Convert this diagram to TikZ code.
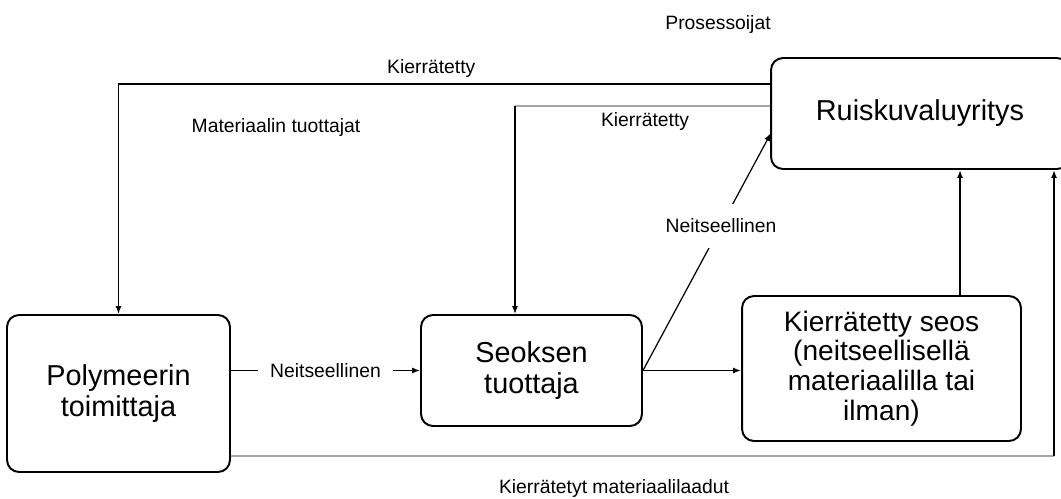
\documentclass[tikz,border=0pt]{standalone}
\usepackage{fontspec}
\setmainfont{Liberation Sans}
\usetikzlibrary{arrows.meta}

\begin{document}
\begin{tikzpicture}[
  x=0.02cm, y=-0.02cm,
  every node/.style={font=\fontsize{11}{13}\selectfont},
  box/.style={
    draw,
    line width=1.1pt,
    rounded corners=0.24cm,
    align=center,
    font=\fontsize{16.4}{17.8}\selectfont
  },
  arrow/.style={-{Latex[length=1.6mm,width=1.2mm]}, line width=0.7pt},
  heavy/.style={arrow, line width=1.1pt},
  faint/.style={line width=0.7pt, black!35},
  lbl/.style={fill=white, inner xsep=0.25cm, inner ysep=0.3cm}
]
\useasboundingbox (0,0) rectangle (1061,498);
\node[box, minimum width=4.46cm, minimum height=3.14cm] (poly) at (118.5,393.5) {Polymeerin\\toimittaja};
\node[box, minimum width=4.42cm, minimum height=2.22cm] (mix) at (531.5,370.5) {Seoksen\\tuottaja};
\node[box, minimum width=5.58cm, minimum height=2.9cm, font=\fontsize{16}{16.9}\selectfont] (blend) at (881.5,368.5) {Kierrätetty seos\\(neitseellisellä\\materiaalilla tai\\ilman)};
\node[box, minimum width=5.96cm, minimum height=2.22cm] (ruisku) at (920,113.5) {Ruiskuvaluyritys};
\node (proc) at (718,24) {Prosessoijat};
\node (makers) at (276,127) {Materiaalin tuottajat};
\node (grades) at (614,488) {Kierrätetyt materiaalilaadut};
\coordinate (outerrow) at (118.5,84);
\coordinate (innerrow) at (515,106);
\coordinate (botrow) at (1054,456);
\coordinate (upx) at (960,0);
\coordinate (diagend) at (771,133);
\draw[arrow] (ruisku.west |- outerrow) -- node[above, pos=0.52] {Kierrätetty} (outerrow) -- (poly.north);
\draw[faint] (ruisku.west |- innerrow) -- node[below, pos=0.49, black] {Kierrätetty} (innerrow);
\draw[arrow] (innerrow) -- (innerrow |- mix.north);
\draw[faint] (poly.east |- botrow) -- (botrow);
\draw[heavy] (botrow) -- (botrow |- ruisku.south);
\draw[heavy] (upx |- blend.north) -- (upx |- ruisku.south);
\draw[arrow] (mix.west -| poly.east) -- node[lbl] {Neitseellinen} (mix.west);
\draw[heavy] (mix.east) -- (mix.east -| blend.west);
\draw[arrow] (mix.east) -- node[lbl, pos=0.61] {Neitseellinen} (diagend);
\end{tikzpicture}
\end{document}
